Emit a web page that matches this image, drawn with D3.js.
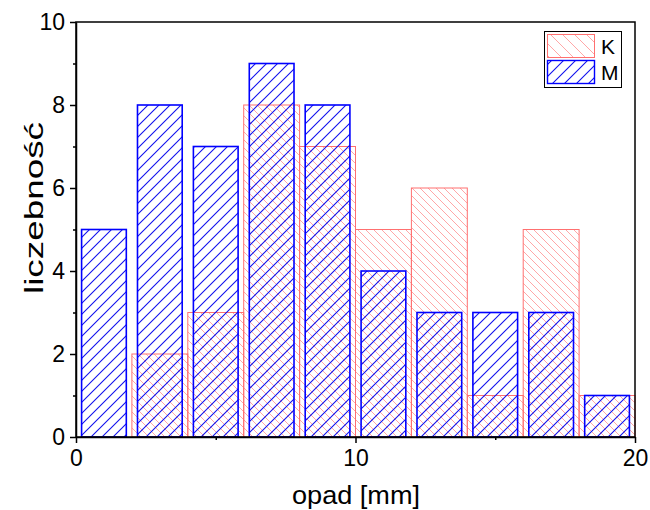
<!DOCTYPE html>
<html>
<head>
<meta charset="utf-8">
<script src="https://cdn.jsdelivr.net/npm/d3@7"></script>
<style>
  html, body { margin: 0; padding: 0; background: #fff; }
  svg { display: block; font-family: "Liberation Sans", Arial, sans-serif; }
</style>
</head>
<body>
<svg id="chart" width="650" height="510"></svg>
<script>
// ---- data ----
const binStarts = [0, 2, 4, 6, 8, 10, 12, 14, 16, 18];
const binWidth = 2;
const kValues = [0, 2, 3, 8, 7, 5, 6, 1, 5, 1];
const mValues = [5, 8, 7, 9, 8, 4, 3, 3, 3, 1];
const seriesNames = ["K", "M"];
const xMajorTicks = [0, 10, 20];
const xMinorTicks = [5, 15];
const yMajorTicks = [0, 2, 4, 6, 8, 10];
const yMinorTicks = [1, 3, 5, 7, 9];
const xTitle = "opad [mm]";
const yTitle = "liczebność";

// ---- layout ----
const W = 650, H = 510;
const margin = { left: 76, top: 22, right: 15, bottom: 73 };
const svg = d3.select("#chart");

const x = d3.scaleLinear().domain([0, 20]).range([margin.left, W - margin.right]);
const y = d3.scaleLinear().domain([0, 10]).range([H - margin.bottom, margin.top]);

const defs = svg.append("defs");
// red "\" hatch
const pk = defs.append("pattern").attr("id", "hatchK")
  .attr("patternUnits", "userSpaceOnUse").attr("width", 8).attr("height", 8);
pk.append("path").attr("d", "M0,0 L8,8 M-2,6 L2,10 M6,-2 L10,2")
  .attr("stroke", "#ff3b3b").attr("stroke-opacity", 0.45).attr("stroke-width", 1);
// blue "/" hatch
const pm = defs.append("pattern").attr("id", "hatchM")
  .attr("patternUnits", "userSpaceOnUse").attr("width", 11).attr("height", 11);
pm.append("path").attr("d", "M0,11 L11,0 M-2,2 L2,-2 M9,13 L13,9")
  .attr("stroke", "#1010ee").attr("stroke-width", 1.1);
// sparser legend hatches
const plk = defs.append("pattern").attr("id", "hatchKleg")
  .attr("patternUnits", "userSpaceOnUse").attr("width", 12).attr("height", 12);
plk.append("path").attr("d", "M0,0 L12,12 M-2,10 L2,14 M10,-2 L14,2")
  .attr("stroke", "#ff3b3b").attr("stroke-opacity", 0.45).attr("stroke-width", 1);
const plm = defs.append("pattern").attr("id", "hatchMleg")
  .attr("patternUnits", "userSpaceOnUse").attr("width", 12).attr("height", 12);
plm.append("path").attr("d", "M0,12 L12,0 M-2,2 L2,-2 M10,14 L14,10")
  .attr("stroke", "#1010ee").attr("stroke-width", 1.1);

const kData = binStarts.map((b, i) => ({ b, v: kValues[i] })).filter(d => d.v > 0);
const mData = binStarts.map((b, i) => ({ b, v: mValues[i] })).filter(d => d.v > 0);

// K bars (full bin width)
svg.append("g").selectAll("rect").data(kData).join("rect")
  .attr("x", d => x(d.b))
  .attr("width", d => x(d.b + binWidth) - x(d.b))
  .attr("y", d => y(d.v))
  .attr("height", d => y(0) - y(d.v))
  .attr("fill", "url(#hatchK)")
  .attr("stroke", "#ff7070").attr("stroke-width", 1);

// M bars (80% of bin width, centered)
const gap = 0.2;
svg.append("g").selectAll("rect").data(mData).join("rect")
  .attr("x", d => x(d.b + gap))
  .attr("width", d => x(d.b + binWidth - gap) - x(d.b + gap))
  .attr("y", d => y(d.v))
  .attr("height", d => y(0) - y(d.v))
  .attr("fill", "url(#hatchM)")
  .attr("stroke", "#0000ff").attr("stroke-width", 1.6);

// ---- frame ----
svg.append("rect")
  .attr("x", x(0)).attr("y", y(10))
  .attr("width", x(20) - x(0)).attr("height", y(0) - y(10))
  .attr("fill", "none").attr("stroke", "#000").attr("stroke-width", 1.5);

// ---- axes ----
const fontTick = 23;
const xAxis = svg.append("g").attr("transform", `translate(0,${y(0)})`)
  .call(d3.axisBottom(x).tickValues(xMajorTicks).tickSize(6).tickSizeOuter(0).tickFormat(d3.format("d")));
xAxis.select(".domain").attr("stroke-width", 1.5);
xAxis.selectAll(".tick line").attr("stroke-width", 1.5);
xAxis.selectAll("text").attr("font-size", fontTick).attr("font-family", "Liberation Sans, Arial, sans-serif")
  .attr("fill", "#000").attr("dy", "0.71em").attr("y", 13);
svg.append("g").attr("transform", `translate(0,${y(0)})`)
  .call(d3.axisBottom(x).tickValues(xMinorTicks).tickSize(3).tickSizeOuter(0).tickFormat(""))
  .call(g => g.select(".domain").remove())
  .selectAll(".tick line").attr("stroke-width", 1.5);

const yAxis = svg.append("g").attr("transform", `translate(${x(0)},0)`)
  .call(d3.axisLeft(y).tickValues(yMajorTicks).tickSize(6).tickSizeOuter(0).tickFormat(d3.format("d")));
yAxis.select(".domain").attr("stroke-width", 1.5);
yAxis.selectAll(".tick line").attr("stroke-width", 1.5);
yAxis.selectAll("text").attr("font-size", fontTick).attr("font-family", "Liberation Sans, Arial, sans-serif")
  .attr("fill", "#000").attr("x", -11);
svg.append("g").attr("transform", `translate(${x(0)},0)`)
  .call(d3.axisLeft(y).tickValues(yMinorTicks).tickSize(3).tickSizeOuter(0).tickFormat(""))
  .call(g => g.select(".domain").remove())
  .selectAll(".tick line").attr("stroke-width", 1.5);

// ---- titles ----
svg.append("text")
  .attr("x", 356).attr("y", 504)
  .attr("text-anchor", "middle")
  .attr("font-size", 25)
  .attr("textLength", 128).attr("lengthAdjust", "spacingAndGlyphs")
  .text(xTitle);

svg.append("text")
  .attr("transform", "translate(43,208) rotate(-90)")
  .attr("text-anchor", "middle")
  .attr("font-size", 26)
  .attr("textLength", 172).attr("lengthAdjust", "spacingAndGlyphs")
  .text(yTitle);

// ---- legend ----
const leg = svg.append("g");
leg.append("rect").attr("x", 544.5).attr("y", 31.5).attr("width", 77).attr("height", 56)
  .attr("fill", "#fff").attr("stroke", "#000").attr("stroke-width", 1);
const legFills = ["url(#hatchKleg)", "url(#hatchMleg)"];
const legStrokes = ["#ff7070", "#0000ff"];
const legWidths = [1, 1.4];
seriesNames.forEach((name, i) => {
  const yy = 34.5 + i * 26;
  leg.append("rect").attr("x", 547.5).attr("y", yy).attr("width", 47).attr("height", 23)
    .attr("fill", legFills[i]).attr("stroke", legStrokes[i]).attr("stroke-width", legWidths[i]);
  leg.append("text").attr("x", 601).attr("y", yy + 19)
    .attr("font-size", 21).text(name);
});
</script>
</body>
</html>
